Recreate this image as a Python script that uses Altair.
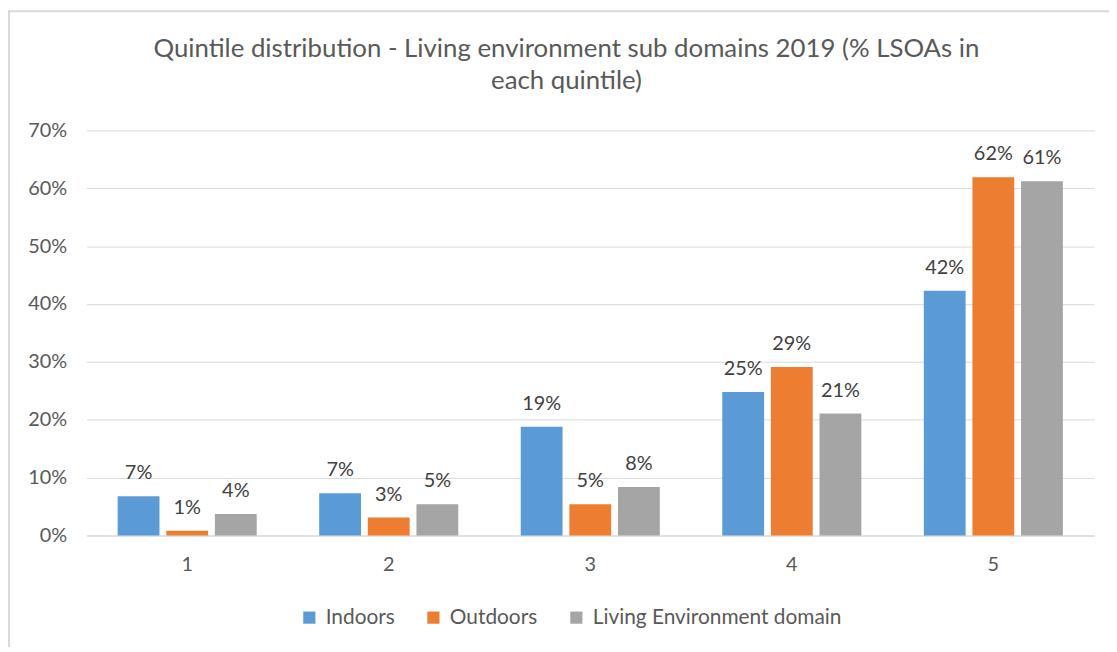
import altair as alt
import pandas as pd

quintiles = ["1", "2", "3", "4", "5"]
series = ["Indoors", "Outdoors", "Living Environment domain"]
indoors = [6.8, 7.3, 18.8, 24.8, 42.3]
outdoors = [0.8, 3.1, 5.4, 29.1, 61.9]
living = [3.7, 5.4, 8.4, 21.1, 61.2]
colors = ["#5B9BD5", "#ED7D31", "#A5A5A5"]
title_lines = ["Quintile distribution - Living environment sub domains 2019 (% LSOAs in",
               "each quintile)"]

rows = []
for s, vals in zip(series, [indoors, outdoors, living]):
    for q, v in zip(quintiles, vals):
        rows.append({"quintile": q, "series": s, "value": v})
df = pd.DataFrame(rows)

FONT = "Lato"
TXT = "#595959"

base = alt.Chart(df).encode(
    x=alt.X("quintile:N", sort=quintiles, title=None,
            scale=alt.Scale(paddingInner=0.31, paddingOuter=0.155),
            axis=alt.Axis(labelAngle=0, labelFontSize=20, labelColor=TXT, labelFont=FONT,
                          ticks=False, domainColor="#d9d9d9", labelPadding=19)),
    xOffset=alt.XOffset("series:N", sort=series,
                        scale=alt.Scale(paddingInner=0.14, paddingOuter=0)),
)

bars = base.mark_bar().encode(
    y=alt.Y("value:Q", title=None,
            scale=alt.Scale(domain=[0, 70]),
            axis=alt.Axis(values=[0, 10, 20, 30, 40, 50, 60, 70], labelExpr="datum.value + '%'",
                          labelFontSize=20, labelColor=TXT, labelFont=FONT, ticks=False,
                          domain=False, gridColor="#d9d9d9", labelPadding=20)),
    color=alt.Color("series:N", sort=series,
                    scale=alt.Scale(domain=series, range=colors),
                    legend=alt.Legend(title=None, orient="none", direction="horizontal",
                                      legendX=214, legendY=480, symbolType="square",
                                      symbolSize=150, symbolStrokeWidth=0, labelFontSize=21,
                                      labelFont=FONT, labelColor=TXT, columnPadding=28,
                                      labelOffset=6, labelLimit=0)),
)

labels = base.mark_text(dy=-17, baseline="alphabetic", fontSize=20, font=FONT,
                        color="#404040").transform_calculate(
    label="format(round(datum.value), 'd') + '%'"
).encode(
    y=alt.Y("value:Q"),
    text=alt.Text("label:N"),
)

frame_df = pd.DataFrame({"k": [0]})
border_top = alt.Chart(frame_df).mark_rule(color="#d9d9d9", strokeWidth=2, clip=False).encode(
    x=alt.value(-79), x2=alt.value(1100), y=alt.value(-120))
border_left = alt.Chart(frame_df).mark_rule(color="#d9d9d9", strokeWidth=2, clip=False).encode(
    x=alt.value(-78), y=alt.value(-121), y2=alt.value(560))
title = alt.Chart(frame_df).mark_text(
    text=title_lines, fontSize=26, font=FONT, color=TXT, align="center",
    baseline="top", lineHeight=32, clip=False).encode(
    x=alt.value(1015 / 2 - 24), y=alt.value(-95))

chart = alt.layer(border_top, border_left, title, bars, labels).properties(
    width=1015, height=408,
    autosize=alt.AutoSizeParams(type="none"),
    padding={"left": 79, "top": 121, "right": 15, "bottom": 110},
).configure_view(stroke=None)

chart.save("out.html", embed_options={"renderer": "svg", "actions": False})
